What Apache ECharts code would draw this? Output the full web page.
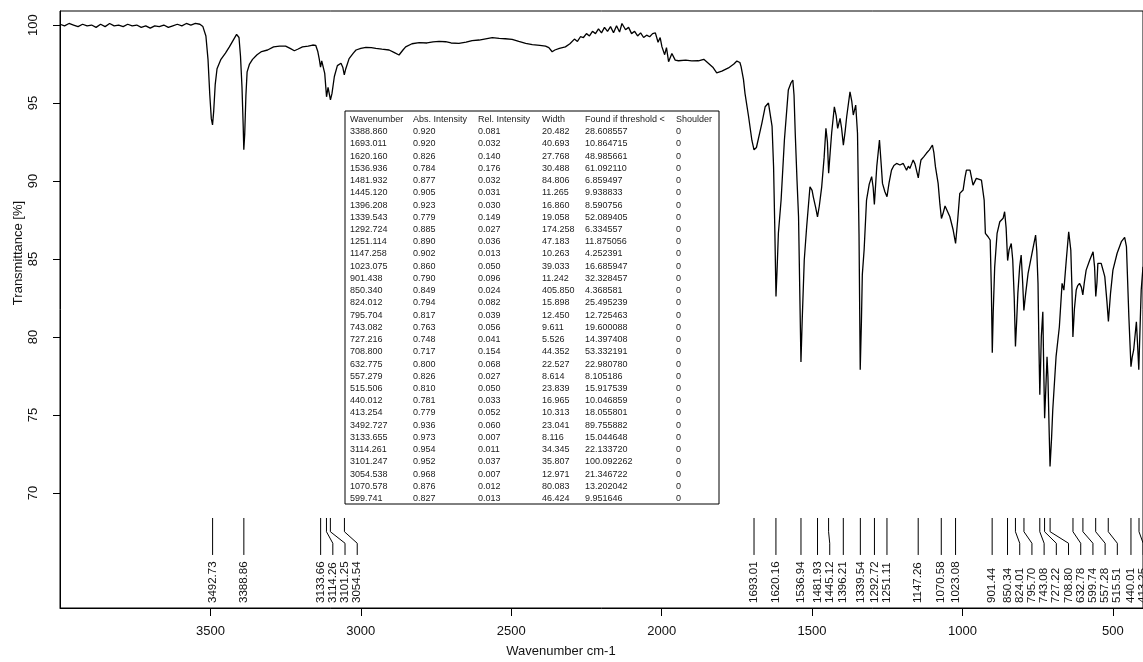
<!DOCTYPE html>
<html>
<head>
<meta charset="utf-8">
<script src="https://cdn.jsdelivr.net/npm/echarts@6/dist/echarts.min.js"></script>
<style>
  html, body { margin: 0; padding: 0; background: #fff; }
  #chart { width: 1143px; height: 662px; }
</style>
</head>
<body>
<div id="chart"></div>
<script>
// IR spectrum: wavenumber (cm-1) and transmittance (%)
const wavenumbers = [
  4000, 3985, 3970, 3955, 3940, 3925, 3910, 3895, 3880, 3865, 3850, 3835, 3820, 3805, 3790, 3775,
  3760, 3745, 3730, 3715, 3700, 3685, 3670, 3655, 3640, 3625, 3610, 3595, 3580, 3565, 3550, 3535,
  3525, 3515, 3508, 3502, 3497, 3493, 3489, 3484, 3478, 3465, 3450, 3437, 3425, 3413, 3405, 3400,
  3395, 3391, 3389, 3386, 3382, 3378, 3370, 3360, 3345, 3330, 3310, 3290, 3270, 3250, 3235, 3221,
  3210, 3194, 3175, 3160, 3150, 3143, 3138, 3134, 3130, 3126, 3120, 3114, 3109, 3105, 3101, 3096,
  3088, 3078, 3066, 3060, 3055, 3050, 3039, 3025, 3016, 3000, 2983, 2965, 2950, 2930, 2906, 2890,
  2873, 2860, 2851, 2830, 2806, 2780, 2760, 2740, 2718, 2700, 2674, 2650, 2630, 2607, 2585, 2563,
  2540, 2520, 2497, 2475, 2452, 2430, 2405, 2386, 2375, 2364, 2355, 2340, 2320, 2305, 2290, 2280,
  2270, 2260, 2250, 2240, 2230, 2220, 2210, 2200, 2190, 2180, 2170, 2160, 2150, 2140, 2132, 2120,
  2110, 2100, 2090, 2080, 2070, 2060, 2050, 2040, 2030, 2021, 2012, 2005, 1999, 1990, 1984, 1977,
  1966, 1955, 1944, 1920, 1900, 1878, 1860, 1844, 1830, 1817, 1800, 1778, 1760, 1750, 1740, 1736,
  1728, 1723, 1711, 1700, 1693, 1685, 1681, 1667, 1656, 1645, 1639, 1633, 1628, 1624, 1620, 1616,
  1612, 1603, 1592, 1579, 1570, 1564, 1560, 1556, 1550, 1545, 1541, 1537, 1533, 1526, 1518, 1507,
  1500, 1496, 1488, 1482, 1476, 1468, 1460, 1454, 1449, 1445, 1440, 1435, 1426, 1420, 1415, 1407,
  1402, 1396, 1390, 1385, 1374, 1368, 1363, 1355, 1349, 1344, 1340, 1336, 1333, 1327, 1319, 1310,
  1302, 1297, 1293, 1285, 1276, 1270, 1266, 1258, 1251, 1244, 1236, 1228, 1219, 1208, 1197, 1190,
  1186, 1180, 1175, 1169, 1164, 1158, 1153, 1147, 1142, 1138, 1129, 1120, 1110, 1100, 1095, 1090,
  1081, 1075, 1070, 1065, 1058, 1053, 1042, 1031, 1023, 1016, 1009, 998, 992, 987, 975, 965,
  954, 937, 928, 924, 915, 908, 904, 901, 898, 893, 885, 876, 865, 860, 855, 850,
  845, 838, 833, 828, 824, 820, 816, 810, 805, 800, 796, 790, 782, 769, 757, 753,
  749, 746, 743, 740, 738, 733, 730, 727, 722, 719, 716, 712, 709, 704, 700, 689,
  678, 669, 663, 655, 647, 640, 636, 633, 628, 622, 617, 611, 605, 600, 595, 589,
  577, 566, 561, 557, 553, 550, 539, 533, 527, 520, 515, 508, 500, 486, 472, 461,
  455, 447, 440, 436, 431, 422, 418, 414, 410, 406, 400
];
const transmittance = [
  100.05, 99.95, 100.1, 100.0, 99.9, 100.05, 99.95, 100.0, 99.85, 100.05, 99.9, 100.1, 99.95, 100.0, 99.9, 100.05,
  99.95, 100.0, 99.85, 99.95, 99.8, 99.95, 99.9, 100.0, 99.85, 99.95, 100.05, 99.95, 100.1, 100.0, 100.1, 100.05,
  99.9, 99.3, 97.8, 95.5, 94.0, 93.6, 94.5, 96.2, 97.2, 97.8, 98.2, 98.6, 99.0, 99.4, 99.2, 98.0,
  96.0, 93.5, 92.0, 93.0, 95.5, 97.0, 97.5, 97.8, 98.1, 98.3, 98.4, 98.6, 98.65, 98.65, 98.5, 98.35,
  98.45, 98.6, 98.65, 98.72, 98.7, 98.3, 97.8, 97.3, 97.7, 97.6, 96.9, 95.4, 96.0, 96.05, 95.2, 95.6,
  96.7, 97.4, 97.55, 97.3, 96.8, 97.2, 97.85, 98.2, 98.4, 98.5, 98.57, 98.55, 98.5, 98.45, 98.4, 98.25,
  98.08, 98.4, 98.6, 98.8, 98.87, 98.85, 98.92, 98.95, 98.93, 98.85, 98.83, 98.9, 99.0, 99.04, 99.12, 99.19,
  99.15, 99.12, 99.08, 98.95, 98.83, 98.75, 98.7, 98.65, 98.55, 98.29, 98.4, 98.5, 98.6, 98.8, 99.1, 98.95,
  99.25, 99.2, 99.45, 99.3, 99.6, 99.45, 99.75, 99.5, 99.85, 99.6, 99.9, 99.5, 99.95, 99.55, 100.1, 99.7,
  99.85, 99.45, 99.6, 99.3, 99.5, 99.2, 99.35, 99.25, 99.45, 99.5, 98.9, 99.2, 98.6, 98.1, 98.55, 97.65,
  98.18, 97.75, 97.71, 97.75, 97.7, 97.71, 97.8, 97.54, 97.3, 96.94, 97.05, 97.25, 97.5, 97.69, 97.6, 97.33,
  96.5, 95.62, 94.12, 92.6, 92.0, 92.15, 92.2, 93.7, 94.76, 95.0, 94.98, 93.5, 90.92, 87.0, 82.6, 84.5,
  86.65, 88.78, 92.63, 95.83, 96.3, 96.47, 95.5, 93.06, 90.0, 87.71, 83.0, 78.4, 81.0, 84.94, 87.07, 89.63,
  89.4, 88.99, 88.3, 87.7, 88.4, 89.63, 91.5, 93.38, 92.5, 90.5, 91.8, 93.06, 94.76, 94.2, 93.38, 94.02,
  93.4, 92.3, 93.2, 94.12, 95.72, 95.1, 94.23, 94.87, 93.06, 86.6, 77.9, 81.0, 84.0, 85.6, 88.78, 89.8,
  90.28, 89.6, 88.5, 90.92, 92.63, 91.0, 89.85, 89.31, 89.0, 89.9, 90.7, 91.0, 91.13, 91.03, 91.13, 90.85,
  90.7, 90.95, 90.81, 91.1, 91.35, 91.1, 91.13, 90.2, 90.9, 91.35, 91.55, 91.78, 92.0, 92.31, 91.8, 90.92,
  89.85, 88.5, 87.6, 87.9, 88.4, 88.35, 87.71, 86.86, 86.0, 87.5, 89.21, 89.42, 90.2, 90.7, 90.7, 89.74,
  90.17, 90.06, 88.78, 86.65, 86.43, 86.22, 83.0, 79.0, 81.5, 84.5, 86.65, 87.39, 87.61, 88.03, 87.0, 84.9,
  85.6, 86.0, 84.94, 82.5, 79.4, 81.0, 82.8, 84.5, 85.26, 83.5, 81.7, 82.8, 84.08, 85.37, 86.54, 85.5,
  83.44, 79.5, 76.3, 78.5, 80.02, 81.62, 78.0, 74.8, 77.2, 78.74, 77.46, 74.0, 71.7, 73.5, 75.32, 78.74,
  80.66, 83.44, 83.01, 84.94, 86.75, 85.58, 83.0, 80.0, 81.8, 83.01, 83.3, 83.44, 83.2, 82.7, 83.5, 84.29,
  84.94, 85.47, 84.5, 82.6, 83.5, 84.72, 84.72, 84.3, 83.87, 82.3, 81.0, 82.8, 84.29, 85.37, 86.11, 86.39,
  85.79, 81.3, 78.1, 78.7, 79.17, 80.98, 79.5, 77.9, 80.5, 83.0, 84.5
];

// Axis ticks
const xTicks = [500, 1000, 1500, 2000, 2500, 3000, 3500];
const yTicks = [70, 75, 80, 85, 90, 95, 100];

// Peak table columns
const peakWavenumber = [
  3388.860, 1693.011, 1620.160, 1536.936, 1481.932, 1445.120, 1396.208, 1339.543, 1292.724, 1251.114,
  1147.258, 1023.075, 901.438, 850.340, 824.012, 795.704, 743.082, 727.216, 708.800, 632.775,
  557.279, 515.506, 440.012, 413.254, 3492.727, 3133.655, 3114.261, 3101.247, 3054.538, 1070.578, 599.741
];
const absIntensity = [
  0.920, 0.920, 0.826, 0.784, 0.877, 0.905, 0.923, 0.779, 0.885, 0.890,
  0.902, 0.860, 0.790, 0.849, 0.794, 0.817, 0.763, 0.748, 0.717, 0.800,
  0.826, 0.810, 0.781, 0.779, 0.936, 0.973, 0.954, 0.952, 0.968, 0.876, 0.827
];
const relIntensity = [
  0.081, 0.032, 0.140, 0.176, 0.032, 0.031, 0.030, 0.149, 0.027, 0.036,
  0.013, 0.050, 0.096, 0.024, 0.082, 0.039, 0.056, 0.041, 0.154, 0.068,
  0.027, 0.050, 0.033, 0.052, 0.060, 0.007, 0.011, 0.037, 0.007, 0.012, 0.013
];
const peakWidth = [
  20.482, 40.693, 27.768, 30.488, 84.806, 11.265, 16.860, 19.058, 174.258, 47.183,
  10.263, 39.033, 11.242, 405.850, 15.898, 12.450, 9.611, 5.526, 44.352, 22.527,
  8.614, 23.839, 16.965, 10.313, 23.041, 8.116, 34.345, 35.807, 12.971, 80.083, 46.424
];
const foundThreshold = [
  28.608557, 10.864715, 48.985661, 61.092110, 6.859497, 9.938833, 8.590756, 52.089405, 6.334557, 11.875056,
  4.252391, 16.685947, 32.328457, 4.368581, 25.495239, 12.725463, 19.600088, 14.397408, 53.332191, 22.980780,
  8.105186, 15.917539, 10.046859, 18.055801, 89.755882, 15.044648, 22.133720, 100.092262, 21.346722, 13.202042, 9.951646
];
const shoulder = [
  0, 0, 0, 0, 0, 0, 0, 0, 0, 0, 0, 0, 0, 0, 0, 0,
  0, 0, 0, 0, 0, 0, 0, 0, 0, 0, 0, 0, 0, 0, 0
];
const tableHeader = ['Wavenumber', 'Abs. Intensity', 'Rel. Intensity', 'Width', 'Found if threshold <', 'Shoulder'];

// ---- layout ----
const FONT = '"Liberation Sans", Arial, sans-serif';
const GRID = { left: 60, right: -2, top: 11, bottom: 54 };

// Peak marker geometry, in transmittance units below the spectrum
const MARK_TOP = 68.40, MARK_BEND1 = 67.52, MARK_BEND2 = 66.78, MARK_END = 66.03, MARK_TEXT = 62.95;
const LABEL_GAP = 12.2;   // minimum horizontal spacing between peak labels (px)

function fmt(v, d) {
  const p = Math.pow(10, d);
  return (Math.round(v * p + 1e-7) / p).toFixed(d);
}

const chart = echarts.init(document.getElementById('chart'), null, { renderer: 'canvas' });

function renderPeakMark(params, api) {
  const i = params.dataIndex;
  const px = peakWavenumber.map(w => api.coord([w, MARK_TOP])[0]);
  const order = px.map((_, k) => k).sort((a, b) => px[a] - px[b]);
  const lx = new Array(px.length);
  let prev = -Infinity;
  order.forEach(k => { lx[k] = Math.max(px[k], prev + LABEL_GAP); prev = lx[k]; });

  const w = peakWavenumber[i];
  const yTop = api.coord([w, MARK_TOP])[1];
  const yB1 = api.coord([w, MARK_BEND1])[1];
  const yB2 = api.coord([w, MARK_BEND2])[1];
  const yEnd = api.coord([w, MARK_END])[1];
  const yText = api.coord([w, MARK_TEXT])[1];
  const x0 = px[i], x1 = lx[i];
  const pts = Math.abs(x1 - x0) < 0.5
    ? [[x0, yTop], [x0, yEnd]]
    : [[x0, yTop], [x0, yB1], [x1, yB2], [x1, yEnd]];
  return {
    type: 'group',
    children: [
      { type: 'polyline', shape: { points: pts }, style: { stroke: '#000', lineWidth: 1, fill: null } },
      {
        type: 'text', x: x1, y: yText, rotation: Math.PI / 2,
        style: { text: fmt(w, 2), textAlign: 'left', textVerticalAlign: 'middle',
                 font: '11.5px ' + FONT, fill: '#111' }
      }
    ]
  };
}

// Table graphics
const COL_X = [350, 413, 478, 542, 585, 676];
const TABLE = { left: 345, top: 111, width: 374, height: 393, headerY: 119.3, firstRowY: 131.7, rowStep: 12.23 };
const tableChildren = [{
  type: 'rect', shape: { x: TABLE.left, y: TABLE.top, width: TABLE.width, height: TABLE.height },
  style: { fill: '#fff', stroke: '#000', lineWidth: 1 }
}];
function cell(x, y, text) {
  tableChildren.push({ type: 'text', x: x, y: y,
    style: { text: text, textAlign: 'left', textVerticalAlign: 'middle', font: '9px ' + FONT, fill: '#222' } });
}
tableHeader.forEach((h, c) => cell(COL_X[c], TABLE.headerY, h));
peakWavenumber.forEach((w, r) => {
  const y = TABLE.firstRowY + r * TABLE.rowStep;
  cell(COL_X[0], y, fmt(w, 3));
  cell(COL_X[1], y, fmt(absIntensity[r], 3));
  cell(COL_X[2], y, fmt(relIntensity[r], 3));
  cell(COL_X[3], y, fmt(peakWidth[r], 3));
  cell(COL_X[4], y, fmt(foundThreshold[r], 6));
  cell(COL_X[5], y, String(shoulder[r]));
});

const option = {
  animation: false,
  backgroundColor: '#fff',
  grid: { left: GRID.left, right: GRID.right, top: GRID.top, bottom: GRID.bottom,
          show: true, borderColor: '#000', borderWidth: 1, backgroundColor: 'transparent' },
  xAxis: {
    type: 'value', min: 400, max: 4000, inverse: true,
    axisLine: { show: true, onZero: false, lineStyle: { color: '#000', width: 1 } },
    axisTick: { show: true, length: 8, customValues: xTicks, lineStyle: { color: '#000' } },
    axisLabel: { customValues: xTicks, margin: 17, color: '#111', fontSize: 13, fontFamily: FONT,
                 formatter: v => String(v) },
    splitLine: { show: false }
  },
  yAxis: {
    type: 'value', min: 62.63, max: 100.9,
    axisLine: { show: true, lineStyle: { color: '#000', width: 1 } },
    axisTick: { show: true, length: 7, customValues: yTicks, lineStyle: { color: '#000' } },
    axisLabel: { customValues: yTicks, rotate: 90, margin: 20, color: '#111', fontSize: 13, fontFamily: FONT,
                 formatter: v => String(v) },
    splitLine: { show: false }
  },
  graphic: [
    { type: 'group', children: tableChildren, z: 10 },
    { type: 'text', x: 561, y: 651,
      style: { text: 'Wavenumber cm-1', textAlign: 'center', textVerticalAlign: 'middle', font: '13px ' + FONT, fill: '#111' } },
    { type: 'text', x: 18, y: 253, rotation: Math.PI / 2,
      style: { text: 'Transmittance [%]', textAlign: 'center', textVerticalAlign: 'middle', font: '13px ' + FONT, fill: '#111' } }
  ],
  series: [
    {
      type: 'line', name: 'spectrum',
      data: wavenumbers.map((w, k) => [w, transmittance[k]]),
      showSymbol: false, symbol: 'none', silent: true,
      lineStyle: { color: '#000', width: 1.3 }
    },
    {
      type: 'custom', name: 'peaks', silent: true, clip: false,
      data: peakWavenumber.map(w => [w, MARK_TOP]),
      encode: { x: 0, y: 1 },
      renderItem: renderPeakMark
    }
  ]
};
chart.setOption(option);
</script>
</body>
</html>
